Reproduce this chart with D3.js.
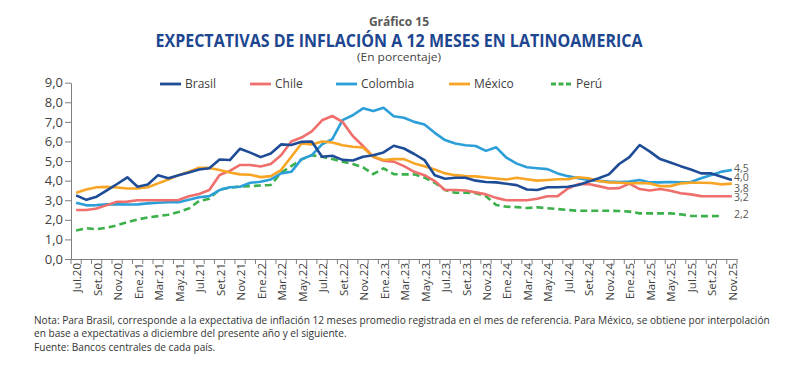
<!DOCTYPE html>
<html><head><meta charset="utf-8">
<script src="https://cdn.jsdelivr.net/npm/d3@7"></script>
<style>
html,body{margin:0;padding:0;background:#fff;}
svg{display:block;font-family:"Open Sans",sans-serif;}
</style></head>
<body><svg id="c" width="800" height="369"></svg>
<script>
const months = ["Jul.20","Ago.20","Set.20","Oct.20","Nov.20","Dic.20",
"Ene.21","Feb.21","Mar.21","Abr.21","May.21","Jun.21","Jul.21","Ago.21","Set.21","Oct.21","Nov.21","Dic.21",
"Ene.22","Feb.22","Mar.22","Abr.22","May.22","Jun.22","Jul.22","Ago.22","Set.22","Oct.22","Nov.22","Dic.22",
"Ene.23","Feb.23","Mar.23","Abr.23","May.23","Jun.23","Jul.23","Ago.23","Set.23","Oct.23","Nov.23","Dic.23",
"Ene.24","Feb.24","Mar.24","Abr.24","May.24","Jun.24","Jul.24","Ago.24","Set.24","Oct.24","Nov.24","Dic.24",
"Ene.25","Feb.25","Mar.25","Abr.25","May.25","Jun.25","Jul.25","Ago.25","Set.25","Oct.25","Nov.25"];

const brasil = [3.25,3.02,3.18,3.5,3.83,4.17,3.69,3.8,4.28,4.12,4.28,4.42,4.57,4.63,5.08,5.05,5.63,5.43,5.2,5.39,
5.85,5.82,5.98,6.0,5.22,5.27,5.06,5.03,5.22,5.3,5.44,5.78,5.64,5.36,5.05,4.28,4.1,4.15,4.15,4.0,
3.93,3.91,3.84,3.77,3.55,3.52,3.66,3.66,3.69,3.78,3.95,4.12,4.32,4.85,5.2,5.82,5.48,5.1,4.93,4.74,
4.57,4.37,4.37,4.2,4.03];
const chile = [2.5,2.5,2.58,2.75,2.92,2.93,3.0,3.0,3.0,3.0,3.01,3.2,3.32,3.52,4.29,4.5,4.8,4.8,4.72,4.85,
5.3,6.0,6.2,6.52,7.08,7.3,7.0,6.28,5.77,5.22,5.02,4.97,4.74,4.45,4.28,3.98,3.52,3.52,3.5,3.4,
3.3,3.12,3.0,3.0,3.0,3.08,3.2,3.21,3.6,3.82,3.83,3.72,3.6,3.62,3.85,3.57,3.5,3.57,3.48,3.36,
3.3,3.21,3.2,3.2,3.2];
const colombia = [2.87,2.74,2.75,2.79,2.79,2.78,2.79,2.84,2.87,2.9,2.9,3.02,3.15,3.21,3.52,3.66,3.69,3.89,3.94,4.06,
4.37,4.45,5.1,5.3,5.85,6.12,7.09,7.34,7.69,7.55,7.72,7.29,7.21,7.0,6.87,6.44,6.07,5.9,5.81,5.77,
5.52,5.7,5.17,4.87,4.68,4.63,4.59,4.37,4.23,4.12,4.03,3.99,3.95,3.93,3.95,4.03,3.91,3.91,3.93,3.91,
3.93,4.12,4.29,4.46,4.54];
const mexico = [3.38,3.55,3.66,3.68,3.65,3.6,3.6,3.66,3.86,4.06,4.28,4.46,4.66,4.65,4.54,4.42,4.32,4.3,4.18,4.23,
4.54,5.22,5.9,5.85,6.0,5.95,5.81,5.73,5.69,5.22,5.05,5.1,5.1,4.88,4.74,4.57,4.37,4.28,4.23,4.22,
4.16,4.11,4.06,4.15,4.07,4.0,4.03,4.07,4.07,4.17,4.12,3.98,3.91,3.89,3.87,3.88,3.86,3.72,3.72,3.86,
3.89,3.89,3.88,3.81,3.85];
const peru = [1.46,1.57,1.52,1.6,1.72,1.88,2.02,2.12,2.19,2.26,2.4,2.58,2.96,3.08,3.55,3.64,3.7,3.72,3.75,3.78,
4.4,4.74,5.08,5.3,5.22,5.1,4.97,4.85,4.68,4.33,4.63,4.33,4.32,4.32,4.16,3.89,3.52,3.38,3.38,3.36,
3.2,2.76,2.67,2.65,2.6,2.64,2.59,2.55,2.5,2.46,2.46,2.46,2.46,2.45,2.42,2.33,2.33,2.33,2.33,2.28,
2.2,2.19,2.19,2.2,null];

const seriesNames = ["Brasil","Chile","Colombia","México","Perú"];
const seriesColors = ["#1f4c97","#ef6f6c","#2c9ed8","#f8a526","#3bb04b"];
const endLabels = ["4,0","3,2","4,5","3,8","2,2"];
const endValues = [4.0,3.2,4.5,3.8,2.2];
const yTicks = [0,1,2,3,4,5,6,7,8,9];

const svg = d3.select("#c");

// Titles
svg.append("text").attr("x",399).attr("y",26).attr("text-anchor","middle")
  .attr("font-size",12).attr("font-weight","bold").attr("fill","#595959").text("Gráfico 15");
const title = svg.append("text").attr("x",399).attr("y",47).attr("text-anchor","middle")
  .attr("font-size",17).attr("font-weight","bold").attr("fill","#1d4690")
  .text("EXPECTATIVAS DE INFLACIÓN A 12 MESES EN LATINOAMERICA");
title.attr("textLength",487).attr("lengthAdjust","spacingAndGlyphs");
const sub = svg.append("text").attr("x",399).attr("y",61).attr("text-anchor","middle")
  .attr("font-size",11.5).attr("fill","#444").text("(En porcentaje)");
sub.attr("textLength",84).attr("lengthAdjust","spacingAndGlyphs");

// Scales
const x = d3.scaleBand().domain(months).range([71,737]).paddingInner(0).paddingOuter(0);
const cx = m => x(m) + x.bandwidth()/2;
const y = d3.scaleLinear().domain([0,9]).range([259,82.7]);

// Y axis
const yAxis = d3.axisLeft(y).tickValues(yTicks).tickSize(6).tickSizeOuter(0)
  .tickFormat(d => d3.format(".1f")(d).replace(".",","));
const gy = svg.append("g").attr("transform","translate(71,0)").call(yAxis);
gy.select(".domain").attr("stroke","#7f7f7f");
gy.selectAll(".tick line").attr("stroke","#7f7f7f");
gy.selectAll(".tick text").attr("font-size",13).attr("fill","#404040")
  .attr("font-family","Open Sans, sans-serif").attr("x",-8);

// X axis
const xAxis = d3.axisBottom(x).tickSize(0).tickSizeOuter(0)
  .tickFormat((d,i) => i % 2 === 0 ? d : "");
const gx = svg.append("g").attr("transform","translate(0,259)").call(xAxis);
gx.select(".domain").attr("stroke","#7f7f7f");
gx.selectAll(".tick text").attr("font-size",11.5).attr("fill","#404040")
  .attr("font-family","Open Sans, sans-serif")
  .attr("transform","rotate(-90)").attr("text-anchor","end")
  .attr("x",-4).attr("y",1).attr("dy","0.35em");
// tick marks at band boundaries
const bounds = months.map(m => x(m)).concat([x(months[months.length-1]) + x.bandwidth()]);
svg.append("g").selectAll("line").data(bounds).join("line")
  .attr("x1",d=>d).attr("x2",d=>d).attr("y1",259).attr("y2",264)
  .attr("stroke","#7f7f7f").attr("stroke-width",1);

// Lines
const allSeries = [brasil, chile, colombia, mexico, peru];
const line = d3.line().defined(d => d.v != null).x(d => cx(d.m)).y(d => y(d.v));
const order = [4,2,1,3,0];
order.forEach(k => {
  const data = months.map((m,i) => ({m, v: allSeries[k][i]}));
  const p = svg.append("path").datum(data).attr("d", line)
    .attr("fill","none").attr("stroke",seriesColors[k]).attr("stroke-width",2.6)
    .attr("stroke-linejoin","round");
  if (k === 4) p.attr("stroke-dasharray","7,4");
});

// End labels
const endDy = [-3.5, 1, -2.5, 3.5, -1.5];
endValues.forEach((v,k) => {
  svg.append("text").attr("x",734).attr("y", y(v) + endDy[k]).attr("dy","0.35em")
    .attr("font-size",10.5).attr("fill","#595959").text(endLabels[k]);
});

// Legend
const legX = [160,250,336,449,551];
seriesNames.forEach((n,k) => {
  const g = svg.append("g").attr("transform",`translate(${legX[k]},84)`);
  const l = g.append("line").attr("x1",0).attr("x2",21).attr("y1",0).attr("y2",0)
    .attr("stroke",seriesColors[k]).attr("stroke-width",2.8);
  if (k === 4) l.attr("stroke-dasharray","5,2.5");
  g.append("text").attr("x",25).attr("y",0).attr("dy","0.35em").attr("font-size",12)
    .attr("fill","#404040").text(n);
});

// Footnotes
const notes = [
 "Nota: Para Brasil, corresponde a la expectativa de inflación 12 meses promedio registrada en el mes de referencia. Para México, se obtiene por interpolación",
 "en base a expectativas a diciembre del presente año y el siguiente.",
 "Fuente: Bancos centrales de cada país."
];
const fg = svg.append("g");
const ft = fg.selectAll("text").data(notes).join("text")
  .attr("x",0).attr("y",(d,i)=>324 + i*13.5).attr("font-size",10.5).attr("fill","#333").text(d=>d);
const w0 = ft.nodes()[0].getComputedTextLength();
const sx = 736 / w0;
fg.attr("transform",`translate(34,0) scale(${sx},1)`);
</script>
</body></html>
